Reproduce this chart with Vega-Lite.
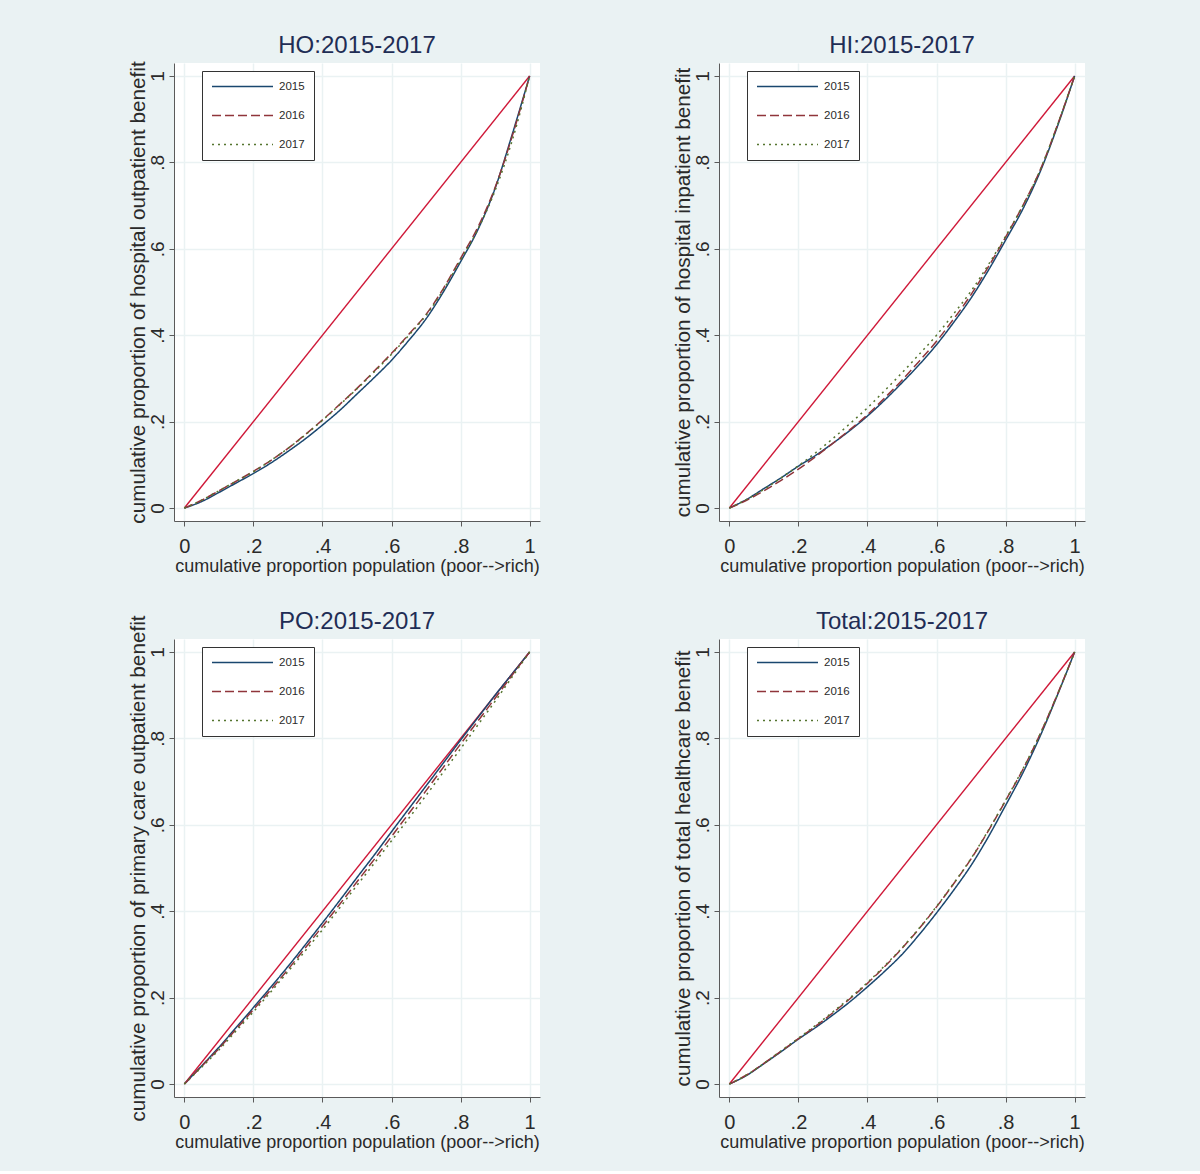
{
  "$schema": "https://vega.github.io/schema/vega-lite/v6.json",
  "background": "#EAF2F3",
  "padding": {"left": 126, "top": 33, "right": 115, "bottom": 20},
  "columns": 2,
  "spacing": {"row": 118, "column": 179},
  "bounds": "flush",
  "datasets": {
    "equality": [{"x": 0, "y": 0}, {"x": 1, "y": 1}],
    "curves": [
      {"panel": "HO", "year": "2015", "x": 0, "y": 0},
      {"panel": "HO", "year": "2015", "x": 0.05, "y": 0.015},
      {"panel": "HO", "year": "2015", "x": 0.1, "y": 0.036},
      {"panel": "HO", "year": "2015", "x": 0.15, "y": 0.058},
      {"panel": "HO", "year": "2015", "x": 0.2, "y": 0.08},
      {"panel": "HO", "year": "2015", "x": 0.25, "y": 0.104},
      {"panel": "HO", "year": "2015", "x": 0.3, "y": 0.131},
      {"panel": "HO", "year": "2015", "x": 0.35, "y": 0.16},
      {"panel": "HO", "year": "2015", "x": 0.4, "y": 0.192},
      {"panel": "HO", "year": "2015", "x": 0.45, "y": 0.226},
      {"panel": "HO", "year": "2015", "x": 0.5, "y": 0.264},
      {"panel": "HO", "year": "2015", "x": 0.55, "y": 0.302},
      {"panel": "HO", "year": "2015", "x": 0.6, "y": 0.342},
      {"panel": "HO", "year": "2015", "x": 0.65, "y": 0.388},
      {"panel": "HO", "year": "2015", "x": 0.7, "y": 0.438},
      {"panel": "HO", "year": "2015", "x": 0.75, "y": 0.5},
      {"panel": "HO", "year": "2015", "x": 0.8, "y": 0.57},
      {"panel": "HO", "year": "2015", "x": 0.85, "y": 0.644},
      {"panel": "HO", "year": "2015", "x": 0.9, "y": 0.74},
      {"panel": "HO", "year": "2015", "x": 0.95, "y": 0.866},
      {"panel": "HO", "year": "2015", "x": 1, "y": 1},
      {"panel": "HO", "year": "2016", "x": 0, "y": 0},
      {"panel": "HO", "year": "2016", "x": 0.05, "y": 0.018},
      {"panel": "HO", "year": "2016", "x": 0.1, "y": 0.04},
      {"panel": "HO", "year": "2016", "x": 0.15, "y": 0.062},
      {"panel": "HO", "year": "2016", "x": 0.2, "y": 0.085},
      {"panel": "HO", "year": "2016", "x": 0.25, "y": 0.11},
      {"panel": "HO", "year": "2016", "x": 0.3, "y": 0.138},
      {"panel": "HO", "year": "2016", "x": 0.35, "y": 0.17},
      {"panel": "HO", "year": "2016", "x": 0.4, "y": 0.204},
      {"panel": "HO", "year": "2016", "x": 0.45, "y": 0.24},
      {"panel": "HO", "year": "2016", "x": 0.5, "y": 0.277},
      {"panel": "HO", "year": "2016", "x": 0.55, "y": 0.317},
      {"panel": "HO", "year": "2016", "x": 0.6, "y": 0.358},
      {"panel": "HO", "year": "2016", "x": 0.65, "y": 0.402},
      {"panel": "HO", "year": "2016", "x": 0.7, "y": 0.448},
      {"panel": "HO", "year": "2016", "x": 0.75, "y": 0.508},
      {"panel": "HO", "year": "2016", "x": 0.8, "y": 0.578},
      {"panel": "HO", "year": "2016", "x": 0.85, "y": 0.65},
      {"panel": "HO", "year": "2016", "x": 0.9, "y": 0.742},
      {"panel": "HO", "year": "2016", "x": 0.95, "y": 0.862},
      {"panel": "HO", "year": "2016", "x": 1, "y": 1},
      {"panel": "HO", "year": "2017", "x": 0, "y": 0},
      {"panel": "HO", "year": "2017", "x": 0.05, "y": 0.018},
      {"panel": "HO", "year": "2017", "x": 0.1, "y": 0.04},
      {"panel": "HO", "year": "2017", "x": 0.15, "y": 0.062},
      {"panel": "HO", "year": "2017", "x": 0.2, "y": 0.084},
      {"panel": "HO", "year": "2017", "x": 0.25, "y": 0.11},
      {"panel": "HO", "year": "2017", "x": 0.3, "y": 0.138},
      {"panel": "HO", "year": "2017", "x": 0.35, "y": 0.169},
      {"panel": "HO", "year": "2017", "x": 0.4, "y": 0.203},
      {"panel": "HO", "year": "2017", "x": 0.45, "y": 0.239},
      {"panel": "HO", "year": "2017", "x": 0.5, "y": 0.276},
      {"panel": "HO", "year": "2017", "x": 0.55, "y": 0.315},
      {"panel": "HO", "year": "2017", "x": 0.6, "y": 0.356},
      {"panel": "HO", "year": "2017", "x": 0.65, "y": 0.4},
      {"panel": "HO", "year": "2017", "x": 0.7, "y": 0.446},
      {"panel": "HO", "year": "2017", "x": 0.75, "y": 0.505},
      {"panel": "HO", "year": "2017", "x": 0.8, "y": 0.574},
      {"panel": "HO", "year": "2017", "x": 0.85, "y": 0.645},
      {"panel": "HO", "year": "2017", "x": 0.9, "y": 0.735},
      {"panel": "HO", "year": "2017", "x": 0.95, "y": 0.852},
      {"panel": "HO", "year": "2017", "x": 1, "y": 1},

      {"panel": "HI", "year": "2015", "x": 0, "y": 0},
      {"panel": "HI", "year": "2015", "x": 0.05, "y": 0.02},
      {"panel": "HI", "year": "2015", "x": 0.1, "y": 0.045},
      {"panel": "HI", "year": "2015", "x": 0.15, "y": 0.07},
      {"panel": "HI", "year": "2015", "x": 0.2, "y": 0.097},
      {"panel": "HI", "year": "2015", "x": 0.25, "y": 0.122},
      {"panel": "HI", "year": "2015", "x": 0.3, "y": 0.15},
      {"panel": "HI", "year": "2015", "x": 0.35, "y": 0.18},
      {"panel": "HI", "year": "2015", "x": 0.4, "y": 0.213},
      {"panel": "HI", "year": "2015", "x": 0.45, "y": 0.25},
      {"panel": "HI", "year": "2015", "x": 0.5, "y": 0.29},
      {"panel": "HI", "year": "2015", "x": 0.55, "y": 0.332},
      {"panel": "HI", "year": "2015", "x": 0.6, "y": 0.378},
      {"panel": "HI", "year": "2015", "x": 0.65, "y": 0.43},
      {"panel": "HI", "year": "2015", "x": 0.7, "y": 0.486},
      {"panel": "HI", "year": "2015", "x": 0.75, "y": 0.55},
      {"panel": "HI", "year": "2015", "x": 0.8, "y": 0.62},
      {"panel": "HI", "year": "2015", "x": 0.85, "y": 0.692},
      {"panel": "HI", "year": "2015", "x": 0.9, "y": 0.778},
      {"panel": "HI", "year": "2015", "x": 0.95, "y": 0.883},
      {"panel": "HI", "year": "2015", "x": 1, "y": 1},
      {"panel": "HI", "year": "2016", "x": 0, "y": 0},
      {"panel": "HI", "year": "2016", "x": 0.05, "y": 0.018},
      {"panel": "HI", "year": "2016", "x": 0.1, "y": 0.04},
      {"panel": "HI", "year": "2016", "x": 0.15, "y": 0.064},
      {"panel": "HI", "year": "2016", "x": 0.2, "y": 0.09},
      {"panel": "HI", "year": "2016", "x": 0.25, "y": 0.119},
      {"panel": "HI", "year": "2016", "x": 0.3, "y": 0.15},
      {"panel": "HI", "year": "2016", "x": 0.35, "y": 0.182},
      {"panel": "HI", "year": "2016", "x": 0.4, "y": 0.216},
      {"panel": "HI", "year": "2016", "x": 0.45, "y": 0.255},
      {"panel": "HI", "year": "2016", "x": 0.5, "y": 0.296},
      {"panel": "HI", "year": "2016", "x": 0.55, "y": 0.34},
      {"panel": "HI", "year": "2016", "x": 0.6, "y": 0.386},
      {"panel": "HI", "year": "2016", "x": 0.65, "y": 0.438},
      {"panel": "HI", "year": "2016", "x": 0.7, "y": 0.494},
      {"panel": "HI", "year": "2016", "x": 0.75, "y": 0.558},
      {"panel": "HI", "year": "2016", "x": 0.8, "y": 0.627},
      {"panel": "HI", "year": "2016", "x": 0.85, "y": 0.7},
      {"panel": "HI", "year": "2016", "x": 0.9, "y": 0.782},
      {"panel": "HI", "year": "2016", "x": 0.95, "y": 0.886},
      {"panel": "HI", "year": "2016", "x": 1, "y": 1},
      {"panel": "HI", "year": "2017", "x": 0, "y": 0},
      {"panel": "HI", "year": "2017", "x": 0.05, "y": 0.02},
      {"panel": "HI", "year": "2017", "x": 0.1, "y": 0.043},
      {"panel": "HI", "year": "2017", "x": 0.15, "y": 0.07},
      {"panel": "HI", "year": "2017", "x": 0.2, "y": 0.098},
      {"panel": "HI", "year": "2017", "x": 0.25, "y": 0.128},
      {"panel": "HI", "year": "2017", "x": 0.3, "y": 0.161},
      {"panel": "HI", "year": "2017", "x": 0.35, "y": 0.196},
      {"panel": "HI", "year": "2017", "x": 0.4, "y": 0.232},
      {"panel": "HI", "year": "2017", "x": 0.45, "y": 0.272},
      {"panel": "HI", "year": "2017", "x": 0.5, "y": 0.313},
      {"panel": "HI", "year": "2017", "x": 0.55, "y": 0.356},
      {"panel": "HI", "year": "2017", "x": 0.6, "y": 0.4},
      {"panel": "HI", "year": "2017", "x": 0.65, "y": 0.45},
      {"panel": "HI", "year": "2017", "x": 0.7, "y": 0.502},
      {"panel": "HI", "year": "2017", "x": 0.75, "y": 0.563},
      {"panel": "HI", "year": "2017", "x": 0.8, "y": 0.629},
      {"panel": "HI", "year": "2017", "x": 0.85, "y": 0.7},
      {"panel": "HI", "year": "2017", "x": 0.9, "y": 0.782},
      {"panel": "HI", "year": "2017", "x": 0.95, "y": 0.886},
      {"panel": "HI", "year": "2017", "x": 1, "y": 1},

      {"panel": "PO", "year": "2015", "x": 0, "y": 0},
      {"panel": "PO", "year": "2015", "x": 0.05, "y": 0.042},
      {"panel": "PO", "year": "2015", "x": 0.1, "y": 0.085},
      {"panel": "PO", "year": "2015", "x": 0.15, "y": 0.131},
      {"panel": "PO", "year": "2015", "x": 0.2, "y": 0.177},
      {"panel": "PO", "year": "2015", "x": 0.25, "y": 0.224},
      {"panel": "PO", "year": "2015", "x": 0.3, "y": 0.272},
      {"panel": "PO", "year": "2015", "x": 0.35, "y": 0.322},
      {"panel": "PO", "year": "2015", "x": 0.4, "y": 0.373},
      {"panel": "PO", "year": "2015", "x": 0.45, "y": 0.425},
      {"panel": "PO", "year": "2015", "x": 0.5, "y": 0.478},
      {"panel": "PO", "year": "2015", "x": 0.55, "y": 0.53},
      {"panel": "PO", "year": "2015", "x": 0.6, "y": 0.584},
      {"panel": "PO", "year": "2015", "x": 0.65, "y": 0.637},
      {"panel": "PO", "year": "2015", "x": 0.7, "y": 0.69},
      {"panel": "PO", "year": "2015", "x": 0.75, "y": 0.743},
      {"panel": "PO", "year": "2015", "x": 0.8, "y": 0.796},
      {"panel": "PO", "year": "2015", "x": 0.85, "y": 0.848},
      {"panel": "PO", "year": "2015", "x": 0.9, "y": 0.9},
      {"panel": "PO", "year": "2015", "x": 0.95, "y": 0.95},
      {"panel": "PO", "year": "2015", "x": 1, "y": 1},
      {"panel": "PO", "year": "2016", "x": 0, "y": 0},
      {"panel": "PO", "year": "2016", "x": 0.05, "y": 0.041},
      {"panel": "PO", "year": "2016", "x": 0.1, "y": 0.082},
      {"panel": "PO", "year": "2016", "x": 0.15, "y": 0.127},
      {"panel": "PO", "year": "2016", "x": 0.2, "y": 0.172},
      {"panel": "PO", "year": "2016", "x": 0.25, "y": 0.218},
      {"panel": "PO", "year": "2016", "x": 0.3, "y": 0.265},
      {"panel": "PO", "year": "2016", "x": 0.35, "y": 0.315},
      {"panel": "PO", "year": "2016", "x": 0.4, "y": 0.365},
      {"panel": "PO", "year": "2016", "x": 0.45, "y": 0.416},
      {"panel": "PO", "year": "2016", "x": 0.5, "y": 0.468},
      {"panel": "PO", "year": "2016", "x": 0.55, "y": 0.52},
      {"panel": "PO", "year": "2016", "x": 0.6, "y": 0.573},
      {"panel": "PO", "year": "2016", "x": 0.65, "y": 0.626},
      {"panel": "PO", "year": "2016", "x": 0.7, "y": 0.679},
      {"panel": "PO", "year": "2016", "x": 0.75, "y": 0.733},
      {"panel": "PO", "year": "2016", "x": 0.8, "y": 0.787},
      {"panel": "PO", "year": "2016", "x": 0.85, "y": 0.84},
      {"panel": "PO", "year": "2016", "x": 0.9, "y": 0.893},
      {"panel": "PO", "year": "2016", "x": 0.95, "y": 0.947},
      {"panel": "PO", "year": "2016", "x": 1, "y": 1},
      {"panel": "PO", "year": "2017", "x": 0, "y": 0},
      {"panel": "PO", "year": "2017", "x": 0.05, "y": 0.039},
      {"panel": "PO", "year": "2017", "x": 0.1, "y": 0.079},
      {"panel": "PO", "year": "2017", "x": 0.15, "y": 0.123},
      {"panel": "PO", "year": "2017", "x": 0.2, "y": 0.167},
      {"panel": "PO", "year": "2017", "x": 0.25, "y": 0.213},
      {"panel": "PO", "year": "2017", "x": 0.3, "y": 0.26},
      {"panel": "PO", "year": "2017", "x": 0.35, "y": 0.308},
      {"panel": "PO", "year": "2017", "x": 0.4, "y": 0.357},
      {"panel": "PO", "year": "2017", "x": 0.45, "y": 0.408},
      {"panel": "PO", "year": "2017", "x": 0.5, "y": 0.46},
      {"panel": "PO", "year": "2017", "x": 0.55, "y": 0.511},
      {"panel": "PO", "year": "2017", "x": 0.6, "y": 0.563},
      {"panel": "PO", "year": "2017", "x": 0.65, "y": 0.615},
      {"panel": "PO", "year": "2017", "x": 0.7, "y": 0.668},
      {"panel": "PO", "year": "2017", "x": 0.75, "y": 0.722},
      {"panel": "PO", "year": "2017", "x": 0.8, "y": 0.776},
      {"panel": "PO", "year": "2017", "x": 0.85, "y": 0.831},
      {"panel": "PO", "year": "2017", "x": 0.9, "y": 0.886},
      {"panel": "PO", "year": "2017", "x": 0.95, "y": 0.943},
      {"panel": "PO", "year": "2017", "x": 1, "y": 1},

      {"panel": "Total", "year": "2015", "x": 0, "y": 0},
      {"panel": "Total", "year": "2015", "x": 0.05, "y": 0.02},
      {"panel": "Total", "year": "2015", "x": 0.1, "y": 0.047},
      {"panel": "Total", "year": "2015", "x": 0.15, "y": 0.075},
      {"panel": "Total", "year": "2015", "x": 0.2, "y": 0.104},
      {"panel": "Total", "year": "2015", "x": 0.25, "y": 0.131},
      {"panel": "Total", "year": "2015", "x": 0.3, "y": 0.16},
      {"panel": "Total", "year": "2015", "x": 0.35, "y": 0.191},
      {"panel": "Total", "year": "2015", "x": 0.4, "y": 0.225},
      {"panel": "Total", "year": "2015", "x": 0.45, "y": 0.261},
      {"panel": "Total", "year": "2015", "x": 0.5, "y": 0.3},
      {"panel": "Total", "year": "2015", "x": 0.55, "y": 0.346},
      {"panel": "Total", "year": "2015", "x": 0.6, "y": 0.396},
      {"panel": "Total", "year": "2015", "x": 0.65, "y": 0.449},
      {"panel": "Total", "year": "2015", "x": 0.7, "y": 0.506},
      {"panel": "Total", "year": "2015", "x": 0.75, "y": 0.572},
      {"panel": "Total", "year": "2015", "x": 0.8, "y": 0.645},
      {"panel": "Total", "year": "2015", "x": 0.85, "y": 0.72},
      {"panel": "Total", "year": "2015", "x": 0.9, "y": 0.805},
      {"panel": "Total", "year": "2015", "x": 0.95, "y": 0.9},
      {"panel": "Total", "year": "2015", "x": 1, "y": 1},
      {"panel": "Total", "year": "2016", "x": 0, "y": 0},
      {"panel": "Total", "year": "2016", "x": 0.05, "y": 0.021},
      {"panel": "Total", "year": "2016", "x": 0.1, "y": 0.048},
      {"panel": "Total", "year": "2016", "x": 0.15, "y": 0.076},
      {"panel": "Total", "year": "2016", "x": 0.2, "y": 0.105},
      {"panel": "Total", "year": "2016", "x": 0.25, "y": 0.134},
      {"panel": "Total", "year": "2016", "x": 0.3, "y": 0.165},
      {"panel": "Total", "year": "2016", "x": 0.35, "y": 0.198},
      {"panel": "Total", "year": "2016", "x": 0.4, "y": 0.233},
      {"panel": "Total", "year": "2016", "x": 0.45, "y": 0.272},
      {"panel": "Total", "year": "2016", "x": 0.5, "y": 0.314},
      {"panel": "Total", "year": "2016", "x": 0.55, "y": 0.36},
      {"panel": "Total", "year": "2016", "x": 0.6, "y": 0.41},
      {"panel": "Total", "year": "2016", "x": 0.65, "y": 0.464},
      {"panel": "Total", "year": "2016", "x": 0.7, "y": 0.521},
      {"panel": "Total", "year": "2016", "x": 0.75, "y": 0.586},
      {"panel": "Total", "year": "2016", "x": 0.8, "y": 0.656},
      {"panel": "Total", "year": "2016", "x": 0.85, "y": 0.728},
      {"panel": "Total", "year": "2016", "x": 0.9, "y": 0.81},
      {"panel": "Total", "year": "2016", "x": 0.95, "y": 0.902},
      {"panel": "Total", "year": "2016", "x": 1, "y": 1},
      {"panel": "Total", "year": "2017", "x": 0, "y": 0},
      {"panel": "Total", "year": "2017", "x": 0.05, "y": 0.021},
      {"panel": "Total", "year": "2017", "x": 0.1, "y": 0.048},
      {"panel": "Total", "year": "2017", "x": 0.15, "y": 0.077},
      {"panel": "Total", "year": "2017", "x": 0.2, "y": 0.106},
      {"panel": "Total", "year": "2017", "x": 0.25, "y": 0.136},
      {"panel": "Total", "year": "2017", "x": 0.3, "y": 0.167},
      {"panel": "Total", "year": "2017", "x": 0.35, "y": 0.2},
      {"panel": "Total", "year": "2017", "x": 0.4, "y": 0.235},
      {"panel": "Total", "year": "2017", "x": 0.45, "y": 0.274},
      {"panel": "Total", "year": "2017", "x": 0.5, "y": 0.315},
      {"panel": "Total", "year": "2017", "x": 0.55, "y": 0.361},
      {"panel": "Total", "year": "2017", "x": 0.6, "y": 0.411},
      {"panel": "Total", "year": "2017", "x": 0.65, "y": 0.465},
      {"panel": "Total", "year": "2017", "x": 0.7, "y": 0.522},
      {"panel": "Total", "year": "2017", "x": 0.75, "y": 0.587},
      {"panel": "Total", "year": "2017", "x": 0.8, "y": 0.657},
      {"panel": "Total", "year": "2017", "x": 0.85, "y": 0.729},
      {"panel": "Total", "year": "2017", "x": 0.9, "y": 0.81},
      {"panel": "Total", "year": "2017", "x": 0.95, "y": 0.901},
      {"panel": "Total", "year": "2017", "x": 1, "y": 1}
    ]
  },
  "resolve": {
    "scale": {"color": "independent", "strokeDash": "independent"},
    "legend": {"color": "independent", "strokeDash": "independent"}
  },
  "concat": [
    {
      "title": {"text": "HO:2015-2017", "offset": 3},
      "width": 366,
      "height": 458,
      "encoding": {
        "x": {"field": "x", "type": "quantitative", "scale": {"domain": [-0.03, 1.03], "nice": false, "zero": false}, "axis": {"title": "cumulative proportion population (poor-->rich)", "values": [0, 0.2, 0.4, 0.6, 0.8, 1]}},
        "y": {"field": "y", "type": "quantitative", "scale": {"domain": [-0.03, 1.03], "nice": false, "zero": false}, "axis": {"title": "cumulative proportion of hospital outpatient benefit", "values": [0, 0.2, 0.4, 0.6, 0.8, 1]}}
      },
      "layer": [
        {"data": {"name": "equality"}, "mark": {"type": "line", "color": "#CF1838", "strokeWidth": 1.4}},
        {
          "data": {"name": "curves"},
          "transform": [{"filter": "datum.panel == 'HO'"}],
          "mark": {"type": "line", "strokeWidth": 1.5, "interpolate": "monotone"},
          "encoding": {
            "color": {"field": "year", "type": "nominal", "scale": {"domain": ["2015", "2016", "2017"], "range": ["#1a476f", "#90353b", "#55752f"]}, "legend": {"title": null, "orient": "none", "legendX": 28, "legendY": 8}},
            "strokeDash": {"field": "year", "type": "nominal", "scale": {"domain": ["2015", "2016", "2017"], "range": [[1, 0], [9, 4], [2, 4]]}, "legend": {"title": null, "orient": "none", "legendX": 28, "legendY": 8}}
          }
        }
      ]
    },
    {
      "title": {"text": "HI:2015-2017", "offset": 5},
      "width": 366,
      "height": 458,
      "encoding": {
        "x": {"field": "x", "type": "quantitative", "scale": {"domain": [-0.03, 1.03], "nice": false, "zero": false}, "axis": {"title": "cumulative proportion population (poor-->rich)", "values": [0, 0.2, 0.4, 0.6, 0.8, 1]}},
        "y": {"field": "y", "type": "quantitative", "scale": {"domain": [-0.03, 1.03], "nice": false, "zero": false}, "axis": {"title": "cumulative proportion of hospital inpatient benefit", "values": [0, 0.2, 0.4, 0.6, 0.8, 1]}}
      },
      "layer": [
        {"data": {"name": "equality"}, "mark": {"type": "line", "color": "#CF1838", "strokeWidth": 1.4}},
        {
          "data": {"name": "curves"},
          "transform": [{"filter": "datum.panel == 'HI'"}],
          "mark": {"type": "line", "strokeWidth": 1.5, "interpolate": "monotone"},
          "encoding": {
            "color": {"field": "year", "type": "nominal", "scale": {"domain": ["2015", "2016", "2017"], "range": ["#1a476f", "#90353b", "#55752f"]}, "legend": {"title": null, "orient": "none", "legendX": 28, "legendY": 8}},
            "strokeDash": {"field": "year", "type": "nominal", "scale": {"domain": ["2015", "2016", "2017"], "range": [[1, 0], [9, 4], [2, 4]]}, "legend": {"title": null, "orient": "none", "legendX": 28, "legendY": 8}}
          }
        }
      ]
    },
    {
      "title": {"text": "PO:2015-2017", "offset": -19},
      "width": 366,
      "height": 458,
      "encoding": {
        "x": {"field": "x", "type": "quantitative", "scale": {"domain": [-0.03, 1.03], "nice": false, "zero": false}, "axis": {"title": "cumulative proportion population (poor-->rich)", "values": [0, 0.2, 0.4, 0.6, 0.8, 1]}},
        "y": {"field": "y", "type": "quantitative", "scale": {"domain": [-0.03, 1.03], "nice": false, "zero": false}, "axis": {"title": "cumulative proportion of primary care outpatient benefit", "values": [0, 0.2, 0.4, 0.6, 0.8, 1]}}
      },
      "layer": [
        {"data": {"name": "equality"}, "mark": {"type": "line", "color": "#CF1838", "strokeWidth": 1.4}},
        {
          "data": {"name": "curves"},
          "transform": [{"filter": "datum.panel == 'PO'"}],
          "mark": {"type": "line", "strokeWidth": 1.5, "interpolate": "monotone"},
          "encoding": {
            "color": {"field": "year", "type": "nominal", "scale": {"domain": ["2015", "2016", "2017"], "range": ["#1a476f", "#90353b", "#55752f"]}, "legend": {"title": null, "orient": "none", "legendX": 28, "legendY": 8}},
            "strokeDash": {"field": "year", "type": "nominal", "scale": {"domain": ["2015", "2016", "2017"], "range": [[1, 0], [9, 4], [2, 4]]}, "legend": {"title": null, "orient": "none", "legendX": 28, "legendY": 8}}
          }
        }
      ]
    },
    {
      "title": {"text": "Total:2015-2017", "offset": 5},
      "width": 366,
      "height": 458,
      "encoding": {
        "x": {"field": "x", "type": "quantitative", "scale": {"domain": [-0.03, 1.03], "nice": false, "zero": false}, "axis": {"title": "cumulative proportion population (poor-->rich)", "values": [0, 0.2, 0.4, 0.6, 0.8, 1]}},
        "y": {"field": "y", "type": "quantitative", "scale": {"domain": [-0.03, 1.03], "nice": false, "zero": false}, "axis": {"title": "cumulative proportion of total healthcare benefit", "values": [0, 0.2, 0.4, 0.6, 0.8, 1]}}
      },
      "layer": [
        {"data": {"name": "equality"}, "mark": {"type": "line", "color": "#CF1838", "strokeWidth": 1.4}},
        {
          "data": {"name": "curves"},
          "transform": [{"filter": "datum.panel == 'Total'"}],
          "mark": {"type": "line", "strokeWidth": 1.5, "interpolate": "monotone"},
          "encoding": {
            "color": {"field": "year", "type": "nominal", "scale": {"domain": ["2015", "2016", "2017"], "range": ["#1a476f", "#90353b", "#55752f"]}, "legend": {"title": null, "orient": "none", "legendX": 28, "legendY": 8}},
            "strokeDash": {"field": "year", "type": "nominal", "scale": {"domain": ["2015", "2016", "2017"], "range": [[1, 0], [9, 4], [2, 4]]}, "legend": {"title": null, "orient": "none", "legendX": 28, "legendY": 8}}
          }
        }
      ]
    }
  ],
  "config": {
    "view": {"fill": "white", "stroke": null},
    "font": "Liberation Sans",
    "title": {"font": "Liberation Sans", "fontSize": 24, "fontWeight": "normal", "color": "#1F2D55", "anchor": "middle", "frame": "group"},
    "axis": {
      "labelExpr": "datum.value == 0 ? '0' : datum.value == 1 ? '1' : replace(format(datum.value, '.1f'), '0.', '.')",
      "grid": true,
      "gridColor": "#EAF2F3",
      "gridWidth": 1.5,
      "domainColor": "#5a5a5a",
      "tickColor": "#5a5a5a",
      "tickSize": 5,
      "labelColor": "#2a2a2a",
      "titleColor": "#2a2a2a",
      "titleFontWeight": "normal",
      "labelFont": "Liberation Sans",
      "titleFont": "Liberation Sans",
      "labelFlush": false,
      "labelOverlap": false
    },
    "axisX": {"labelFontSize": 20, "titleFontSize": 18, "labelPadding": 10, "titlePadding": 1},
    "axisY": {"labelFontSize": 19, "titleFontSize": 20.7, "labelAngle": -90, "labelPadding": 2, "titlePadding": 0},
    "legend": {
      "symbolType": "stroke",
      "symbolSize": 3721,
      "symbolStrokeWidth": 1.5,
      "clipHeight": 13,
      "labelFont": "Liberation Sans",
      "labelFontSize": 11.5,
      "labelColor": "#2a2a2a",
      "labelOffset": 5,
      "rowPadding": 16,
      "padding": 9,
      "strokeColor": "#333333",
      "fillColor": "white"
    }
  }
}
